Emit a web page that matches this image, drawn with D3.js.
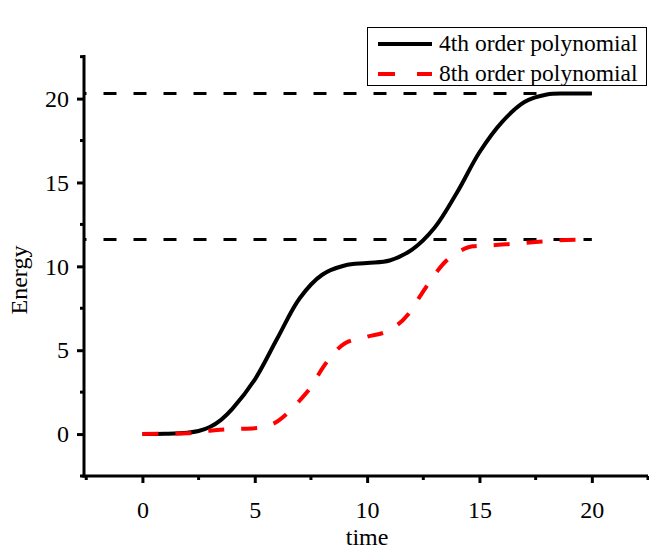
<!DOCTYPE html>
<html>
<head>
<meta charset="utf-8">
<script src="https://cdn.jsdelivr.net/npm/d3@7"></script>
<style>
  html, body { margin: 0; padding: 0; background: #fff; }
  svg text { font-family: "Liberation Serif", "Times New Roman", serif; fill: #000; }
</style>
</head>
<body>
<div id="chart"></div>
<script>
// Data
const timeA   = [0, 1, 2, 2.5, 3, 3.5, 4, 5, 6, 7, 8, 9, 10, 11, 12, 13, 14, 15, 16, 17, 18, 19, 20];
const energyA = [0, 0.02, 0.08, 0.18, 0.42, 0.85, 1.5, 3.25, 5.7, 8.1, 9.5, 10.05, 10.2, 10.35, 11.0, 12.3, 14.4, 16.8, 18.6, 19.8, 20.25, 20.3, 20.3];

const timeB   = [0, 1, 2, 3, 4, 5, 5.8, 6.5, 7, 7.5, 8, 8.5, 9, 10, 11, 11.8, 12.3, 13, 13.5, 14, 14.7, 15.5, 16.5, 17.5, 18.5, 20];
const energyB = [0, 0.02, 0.05, 0.2, 0.3, 0.35, 0.6, 1.3, 2.0, 2.8, 3.9, 4.8, 5.4, 5.8, 6.2, 7.1, 8.1, 9.5, 10.3, 10.8, 11.2, 11.25, 11.35, 11.45, 11.55, 11.6];

const refLevels = [20.3, 11.6];
const xTicks = [0, 5, 10, 15, 20];
const yTicks = [0, 5, 10, 15, 20];
const seriesNames = ['4th order polynomial', '8th order polynomial'];

(function () {
  const W = 649, H = 549;
  const left = 84, right = 648, top = 55, bottom = 476;
  const FONT = '"Liberation Serif", "Times New Roman", serif';

  const svg = d3.select('#chart').append('svg')
    .attr('width', W).attr('height', H);

  const x = d3.scaleLinear().domain([-2.6, 22.5]).range([left, right]);
  const y = d3.scaleLinear().domain([-2.5, 22.6]).range([bottom, top]);

  // reference dashed levels
  svg.append('g').selectAll('line')
    .data(refLevels)
    .enter().append('line')
    .attr('x1', x(-2.6)).attr('x2', x(20))
    .attr('y1', d => y(d)).attr('y2', d => y(d))
    .attr('stroke', '#000').attr('stroke-width', 3)
    .attr('stroke-dasharray', '13,17')
    .attr('stroke-dashoffset', 10.5);

  const dataA = timeA.map((t, i) => [t, energyA[i]]);
  const dataB = timeB.map((t, i) => [t, energyB[i]]);

  svg.append('path').datum(dataA)
    .attr('d', d3.line().x(d => x(d[0])).y(d => y(d[1])).curve(d3.curveCatmullRom.alpha(0.5)))
    .attr('fill', 'none')
    .attr('stroke', '#000').attr('stroke-width', 4);

  svg.append('path').datum(dataB)
    .attr('d', d3.line().x(d => x(d[0])).y(d => y(d[1])).curve(d3.curveMonotoneX))
    .attr('fill', 'none')
    .attr('stroke', '#ff0000').attr('stroke-width', 4)
    .attr('stroke-dasharray', '16,17');

  // axes
  const xAxis = svg.append('g').attr('transform', `translate(0,${bottom})`);
  xAxis.call(d3.axisBottom(x).tickValues(xTicks).tickSize(7).tickPadding(18).tickFormat(d3.format('d')));
  xAxis.append('g').selectAll('line')
    .data(d3.range(-2.5, 22.6, 5))
    .enter().append('line')
    .attr('x1', d => x(d)).attr('x2', d => x(d))
    .attr('y1', 0).attr('y2', 4)
    .attr('stroke', '#000').attr('stroke-width', 3);

  const yAxis = svg.append('g').attr('transform', `translate(${left},0)`);
  yAxis.call(d3.axisLeft(y).tickValues(yTicks).tickSize(7).tickPadding(8).tickFormat(d3.format('d')));
  yAxis.append('g').selectAll('line')
    .data(d3.range(-2.5, 22.6, 5))
    .enter().append('line')
    .attr('y1', d => y(d)).attr('y2', d => y(d))
    .attr('x1', 0).attr('x2', -4)
    .attr('stroke', '#000').attr('stroke-width', 3);

  [xAxis, yAxis].forEach(a => {
    a.select('.domain').remove();
    a.selectAll('.tick line').attr('stroke-width', 3);
    a.selectAll('.tick text')
      .style('font-size', '24px')
      .style('font-family', FONT);
  });

  svg.append('line')
    .attr('x1', left - 1.5).attr('x2', right).attr('y1', bottom).attr('y2', bottom)
    .attr('stroke', '#000').attr('stroke-width', 3);
  svg.append('line')
    .attr('x1', left).attr('x2', left).attr('y1', top).attr('y2', bottom + 1.5)
    .attr('stroke', '#000').attr('stroke-width', 3);

  // axis titles
  svg.append('text')
    .attr('x', x(10)).attr('y', 545)
    .attr('text-anchor', 'middle')
    .style('font-size', '24px')
    .text('time');

  svg.append('text')
    .attr('transform', 'translate(27,280) rotate(-90)')
    .attr('text-anchor', 'middle')
    .style('font-size', '24px')
    .text('Energy');

  // legend
  const lg = svg.append('g');
  lg.append('rect')
    .attr('x', 367.5).attr('y', 27.5)
    .attr('width', 279).attr('height', 58)
    .attr('fill', '#fff').attr('stroke', '#000').attr('stroke-width', 1);

  const styles = [
    { color: '#000', dash: null },
    { color: '#ff0000', dash: '17,22' }
  ];
  seriesNames.forEach((name, i) => {
    const base = 51 + i * 30;
    lg.append('line')
      .attr('x1', 378).attr('x2', 432)
      .attr('y1', base - 7).attr('y2', base - 7)
      .attr('stroke', styles[i].color).attr('stroke-width', 4)
      .attr('stroke-dasharray', styles[i].dash);
    lg.append('text')
      .attr('x', 439).attr('y', base)
      .style('font-size', '23.5px')
      .text(name);
  });
})();
</script>
</body>
</html>
